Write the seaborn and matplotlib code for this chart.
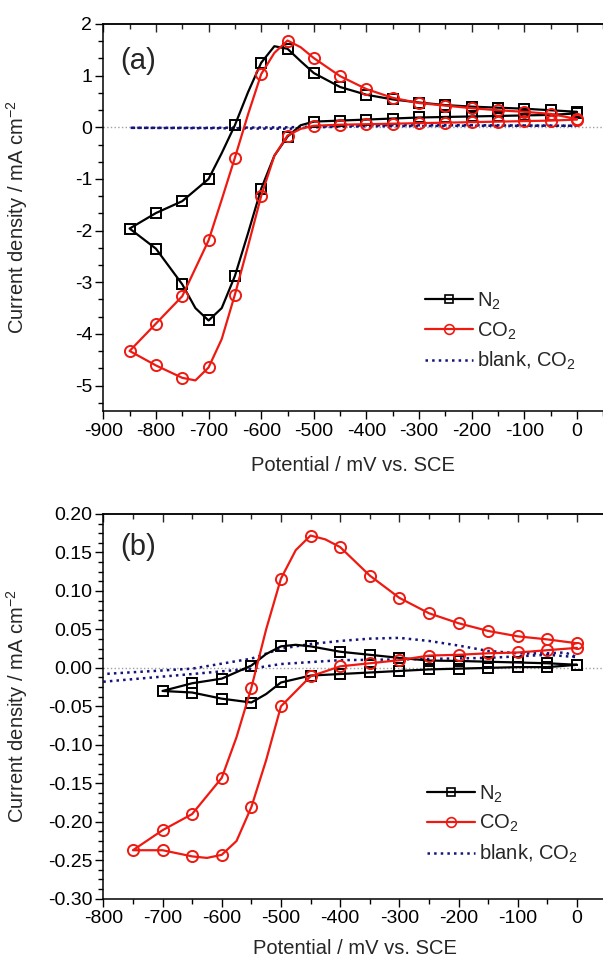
"""
Cyclic voltammograms, N2 vs CO2 vs blank (two panels).
"""

# ========= Imports =========
import pandas as pd
import seaborn as sns
import matplotlib.pyplot as plt
from matplotlib.lines import Line2D
from matplotlib.ticker import MultipleLocator, FormatStrFormatter, AutoMinorLocator


# ========= Data: panel (a) =========
a_n2_x = [0, -50, -100, -150, -200, -250, -300, -350, -400, -450, -500, -525, -550, -575,
          -600, -625, -650, -675, -700, -725, -750, -800, -850,
          -800, -750, -700, -675, -650, -625, -600, -575, -550, -525, -500, -450, -400,
          -350, -300, -250, -200, -150, -100, -50, 0]
a_n2_y = [0.27, 0.24, 0.23, 0.22, 0.21, 0.20, 0.19, 0.17, 0.15, 0.13, 0.11, 0.04, -0.18, -0.55,
          -1.19, -2.05, -2.88, -3.50, -3.74, -3.50, -3.04, -2.35, -1.96,
          -1.66, -1.43, -1.00, -0.50, 0.04, 0.68, 1.25, 1.57, 1.52, 1.28, 1.05, 0.78, 0.63,
          0.54, 0.48, 0.43, 0.40, 0.38, 0.36, 0.33, 0.30]

a_co2_x = [0, -50, -100, -150, -200, -250, -300, -350, -400, -450, -500, -525, -550, -575,
           -600, -625, -650, -675, -700, -725, -750, -800, -850,
           -800, -750, -700, -675, -650, -625, -600, -575, -550, -525, -500, -450, -400,
           -350, -300, -250, -200, -150, -100, -50, 0]
a_co2_y = [0.15, 0.13, 0.12, 0.11, 0.10, 0.09, 0.08, 0.07, 0.06, 0.05, 0.03, -0.03, -0.16, -0.55,
           -1.33, -2.30, -3.24, -4.10, -4.65, -4.90, -4.85, -4.61, -4.33,
           -3.80, -3.27, -2.19, -1.40, -0.59, 0.25, 1.03, 1.44, 1.68, 1.55, 1.34, 0.99, 0.74,
           0.57, 0.47, 0.42, 0.37, 0.33, 0.30, 0.26, 0.16]

a_blank_x = [0, -200, -400, -500, -550, -650, -850, -700, -550, -400, -200, 0]
a_blank_y = [0.03, 0.03, 0.02, 0.00, -0.03, -0.02, -0.01, -0.01, 0.00, 0.04, 0.04, 0.03]

# ========= Data: panel (b) =========
b_n2_x = [0, -50, -100, -150, -200, -250, -300, -350, -400, -450, -475, -500, -525, -550,
          -600, -650, -700,
          -650, -600, -550, -525, -500, -450, -400, -350, -300, -250, -200, -150, -100, -50, 0]
b_n2_y = [0.004, 0.006, 0.007, 0.008, 0.009, 0.0095, 0.013, 0.017, 0.021, 0.028, 0.030, 0.028,
          0.018, 0.003, -0.014, -0.020, -0.030,
          -0.032, -0.040, -0.045, -0.034, -0.019, -0.010, -0.008, -0.006, -0.004, -0.002,
          -0.001, 0.000, 0.001, 0.001, 0.004]

b_co2_x = [0, -50, -100, -150, -200, -250, -300, -350, -400, -425, -450, -475, -500, -525,
           -550, -575, -600, -650, -700, -750,
           -700, -650, -625, -600, -575, -550, -525, -500, -450, -400, -350, -300, -250, -200,
           -150, -100, -50, 0]
b_co2_y = [0.032, 0.037, 0.041, 0.048, 0.058, 0.071, 0.091, 0.120, 0.157, 0.167, 0.172, 0.153,
           0.116, 0.050, -0.026, -0.090, -0.143, -0.190, -0.211, -0.237,
           -0.237, -0.245, -0.247, -0.243, -0.225, -0.181, -0.120, -0.050, -0.011, 0.002,
           0.006, 0.010, 0.016, 0.017, 0.019, 0.020, 0.023, 0.026]

b_blank_x = [-800, -650, -550, -500, -400, -300, -150, -50, 0,
             -20, -50, -100, -150, -200, -250, -300, -350, -400, -450, -500, -550, -650, -800]
b_blank_y = [-0.018, -0.008, -0.001, 0.005, 0.010, 0.011, 0.013, 0.017, 0.014,
             0.020, 0.019, 0.019, 0.022, 0.029, 0.035, 0.039, 0.038, 0.035, 0.031, 0.025,
             0.012, -0.001, -0.008]

legend_labels = ["N$_2$", "CO$_2$", "blank, CO$_2$"]

# ========= Style =========
RED = "#ee1a12"
NAVY = "#14147a"
sns.set_style("ticks")
plt.rcParams["font.family"] = ["Liberation Sans", "DejaVu Sans"]
plt.rcParams["mathtext.default"] = "regular"
plt.rcParams["axes.unicode_minus"] = False


# ========= Helpers =========
def draw_cv(ax, xs, ys, color, marker, ms):
    df = pd.DataFrame({"x": xs, "y": ys})
    marks = [x % 50 == 0 for x in xs]
    sns.lineplot(data=df, x="x", y="y", sort=False, estimator=None, ax=ax,
                 color=color, lw=1.6, marker=marker, markevery=marks,
                 markersize=ms, markerfacecolor="none", markeredgecolor=color,
                 markeredgewidth=1.4)


def draw_blank(ax, xs, ys):
    df = pd.DataFrame({"x": xs, "y": ys})
    sns.lineplot(data=df, x="x", y="y", sort=False, estimator=None, ax=ax,
                 color=NAVY, lw=1.8, linestyle=":")


def style_axes(ax, xlim, ylim, ymajor, yminor_n, yfmt, tag, tag_y, leg_y, xlab_y):
    ax.set_xlim(*xlim)
    ax.set_ylim(*ylim)
    ax.axhline(0, color="#a0a0a0", lw=1.0, ls=":", zorder=0)
    ax.xaxis.set_major_locator(MultipleLocator(100))
    ax.xaxis.set_minor_locator(AutoMinorLocator(2))
    ax.yaxis.set_major_locator(MultipleLocator(ymajor))
    ax.yaxis.set_minor_locator(AutoMinorLocator(yminor_n))
    ax.yaxis.set_major_formatter(FormatStrFormatter(yfmt))
    ax.tick_params(which="both", direction="out", width=1.0, labelsize=14,
                   colors="black", top=False, right=False)
    ax.tick_params(which="major", length=6, pad=2)
    ax.tick_params(which="minor", length=3.5)
    for side in ["left", "bottom", "top"]:
        ax.spines[side].set_linewidth(1.1)
        ax.spines[side].set_color("black")
    ax.spines["right"].set_visible(False)

    top = ax.secondary_xaxis("top")
    top.xaxis.set_major_locator(MultipleLocator(100))
    top.xaxis.set_minor_locator(AutoMinorLocator(2))
    top.tick_params(which="both", direction="in", labeltop=False, width=1.0)
    top.tick_params(which="major", length=6)
    top.tick_params(which="minor", length=3.5)
    top.spines["top"].set_linewidth(1.1)

    ax.set_xlabel("Potential / mV vs. SCE", fontsize=14.5)
    ax.set_ylabel("Current density / mA cm$^{-2}$", fontsize=14.5)
    ax.xaxis.set_label_coords(0.5, xlab_y)
    ax.yaxis.set_label_coords(-0.146, 0.5)
    ax.text(0.033, tag_y, tag, transform=ax.transAxes, fontsize=21,
            ha="left", va="center")

    handles = [
        Line2D([], [], color="black", lw=1.6, marker="s", ms=6, mfc="none", mew=1.2),
        Line2D([], [], color=RED, lw=1.6, marker="o", ms=7, mfc="none", mew=1.2),
        Line2D([], [], color=NAVY, lw=1.8, ls=":"),
    ]
    ax.legend(handles, legend_labels, loc="upper left", bbox_to_anchor=(0.643, leg_y),
              frameon=False, fontsize=14.5, handlelength=2.4, handletextpad=0.2,
              labelspacing=0.42, borderpad=0, borderaxespad=0)


# ========= Main =========
fig = plt.figure(figsize=(6.03, 9.6), dpi=100)
W, H = 603.0, 960.0
ax_a = fig.add_axes([103.3 / W, 1 - 411.4 / H, 500.0 / W, 387.4 / H])
ax_b = fig.add_axes([103.3 / W, 1 - 898.7 / H, 503.3 / W, 384.7 / H])

draw_blank(ax_a, a_blank_x, a_blank_y)
draw_cv(ax_a, a_n2_x, a_n2_y, "black", "s", 7)
draw_cv(ax_a, a_co2_x, a_co2_y, RED, "o", 8)
style_axes(ax_a, (-900, 50), (-5.5, 2), 1, 3, "%d", "(a)", 0.904, 0.312, -0.115)

draw_blank(ax_b, b_blank_x, b_blank_y)
draw_cv(ax_b, b_n2_x, b_n2_y, "black", "s", 7)
draw_cv(ax_b, b_co2_x, b_co2_y, RED, "o", 8)
style_axes(ax_b, (-800, 50), (-0.30, 0.20), 0.05, 4, "%.2f", "(b)", 0.915, 0.300, -0.105)

fig.savefig("out.png", dpi=100)
plt.close(fig)
